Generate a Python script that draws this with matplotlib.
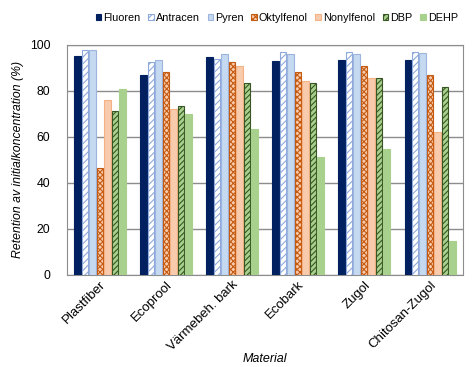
# retention per material, seven substances, grouped bars
import numpy as np
import matplotlib.pyplot as plt
import matplotlib as mpl

plt.rcParams['font.family'] = ['Liberation Sans', 'DejaVu Sans']
mpl.rcParams['hatch.linewidth'] = 0.8

material = ["Plastfiber", "Ecoprool", "Värmebeh. bark", "Ecobark", "Zugol", "Chitosan-Zugol"]
names = ["Fluoren", "Antracen", "Pyren", "Oktylfenol", "Nonylfenol", "DBP", "DEHP"]

fluoren    = [95.0, 86.8, 94.8, 92.8, 93.3, 93.3]
antracen   = [97.7, 92.6, 93.6, 96.7, 97.0, 96.8]
pyren      = [97.7, 93.3, 96.2, 96.0, 96.2, 96.5]
oktylfenol = [46.5, 88.3, 92.6, 88.0, 90.6, 87.0]
nonylfenol = [76.0, 72.0, 90.7, 84.2, 85.4, 61.9]
dbp        = [71.3, 73.5, 83.2, 83.3, 85.4, 81.6]
dehp       = [80.7, 69.7, 63.2, 51.0, 54.6, 14.8]
series = [fluoren, antracen, pyren, oktylfenol, nonylfenol, dbp, dehp]

# face, edge, hatch
styles = [
    ("#002060", "#002060", None),
    ("white", "#8EA9DB", "/////"),
    ("#C5D9F1", "#9DB5DE", None),
    ("#F8CBAD", "#C55A11", "xxxxxx"),
    ("#F8CBAD", "#F4B183", None),
    ("#A9D18E", "#375623", "//////"),
    ("#A9D18E", "#A9D18E", None),
]

fig, ax = plt.subplots(figsize=(4.75, 3.67), dpi=100)
fig.subplots_adjust(left=0.141, right=0.975, top=0.878, bottom=0.252)

x = np.arange(len(material))
w = 0.113
for i, (vals, (fc, ec, h)) in enumerate(zip(series, styles)):
    off = (i - 3) * w
    ax.bar(x + off, vals, width=w * 0.86, color=fc, edgecolor=ec, hatch=h,
           linewidth=0.8, label=names[i], zorder=3)

ax.set_xlim(-0.5, len(material) - 0.5)
ax.set_ylim(0, 100)
ax.set_yticks(np.arange(0, 101, 20))
ax.yaxis.grid(True, color="#8c8c8c", linewidth=1.0, zorder=0)
ax.tick_params(axis="y", length=0, pad=12, labelsize=8.8)
ax.tick_params(axis="x", length=0, pad=3, labelsize=9.5)
ax.set_xticks(x)
ax.set_xticklabels(material, rotation=45, ha="right", rotation_mode="anchor")
for s in ax.spines.values():
    s.set_color("#8c8c8c")

ax.set_ylabel("Retention av initialkoncentration (%)", style="italic", fontsize=8.8)
ax.set_xlabel("Material", style="italic", fontsize=9, labelpad=0)

ax.legend(loc="center", bbox_to_anchor=(0.53, 1.118), ncol=7, frameon=False,
          fontsize=7.8, handlelength=0.5, handleheight=0.5, handletextpad=0.2,
          columnspacing=0.7, borderaxespad=0)

fig.savefig("out.png")
